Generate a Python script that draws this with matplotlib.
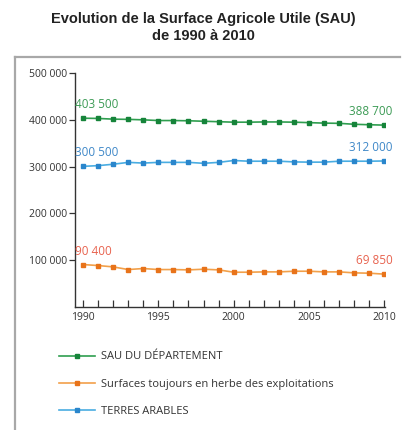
import matplotlib.pyplot as plt
from matplotlib.lines import Line2D
from matplotlib.ticker import FuncFormatter, MultipleLocator

plt.rcParams['font.family'] = ['Open Sans', 'DejaVu Sans']

years = list(range(1990, 2011))

sau = [403500, 403000, 401500, 401000, 400000, 398500, 398500, 398000, 397000, 396000,
       395000, 395000, 395500, 395500, 395000, 394000, 393000, 392500, 390500, 389500, 388700]
herbe = [90400, 88300, 85400, 79700, 81900, 79700, 79700, 79000, 80400, 79000,
         74000, 74000, 74700, 74700, 76100, 76100, 74700, 74700, 72600, 71900, 69850]
arables = [300500, 302000, 305000, 309000, 307500, 309000, 309000, 309000, 307000, 309000,
           313000, 311500, 311500, 311500, 310000, 309500, 309500, 311500, 311500, 311500, 312000]

labels = ['SAU DU DÉPARTEMENT',
          'Surfaces toujours en herbe des exploitations',
          'TERRES ARABLES']

# line colour, marker colour, value text colour
styles = [('#2f9e4f', '#16843a', '#3c9b55'),
          ('#f2a04a', '#e8731a', '#e8634f'),
          ('#49ade2', '#2a86cc', '#3f88c8')]


def fmt(v):
    return f'{v:,.0f}'.replace(',', ' ')


fig = plt.figure(figsize=(4.06, 4.30), dpi=100)
ax = fig.add_axes([0.1847, 0.2865, 0.763, 0.5435])

handles = []
for series, label, (lc, mc, tc) in zip([sau, herbe, arables], labels, styles):
    h, = ax.plot(years, series, color=lc, lw=1.2, marker='s', ms=3.4,
                 mfc=mc, mec=mc, label=label)
    handles.append(h)
    ax.annotate(fmt(series[0]), (years[0], series[0]), xytext=(-6, 5),
                textcoords='offset points', color=tc, fontsize=8.5, ha='left', va='bottom')
    ax.annotate(fmt(series[-1]), (years[-1], series[-1]), xytext=(6, 5),
                textcoords='offset points', color=tc, fontsize=8.5, ha='right', va='bottom')

ax.set_xlim(1989.47, 2010.02)
ax.set_ylim(0, 500000)
ax.spines['top'].set_visible(False)
ax.spines['right'].set_visible(False)
for s in ['left', 'bottom']:
    ax.spines[s].set_color('#333333')
    ax.spines[s].set_linewidth(1.0)

ax.set_xticks([1990, 1995, 2000, 2005, 2010])
ax.xaxis.set_minor_locator(MultipleLocator(1))
ax.tick_params(axis='x', which='both', direction='in', length=5, width=0.9,
               color='#333333', labelsize=7.5, labelcolor='#333333', pad=4)
ax.set_yticks([100000, 200000, 300000, 400000, 500000])
ax.yaxis.set_major_formatter(FuncFormatter(lambda v, p: fmt(v)))
ax.tick_params(axis='y', direction='out', length=4, width=0.9,
               color='#333333', labelsize=7.5, labelcolor='#333333', pad=2)

fig.text(0.5, 0.972, 'Evolution de la Surface Agricole Utile (SAU)\nde 1990 à 2010',
         ha='center', va='top', fontsize=10.5, fontweight='bold',
         family='Liberation Sans', color='#222222', linespacing=1.3)

# grey frame around the chart
fig.add_artist(Line2D([0.037, 0.985], [0.867, 0.867], color='#a8a8a8', lw=1.6))
fig.add_artist(Line2D([0.037, 0.037], [0.0, 0.867], color='#a8a8a8', lw=1.6))

fig.legend(handles=handles, loc='upper left', bbox_to_anchor=(0.135, 0.193),
           frameon=False, fontsize=8, handlelength=3.2, handletextpad=0.6,
           labelspacing=1.45, labelcolor='#333333', borderaxespad=0)

fig.savefig('out.png', dpi=100, facecolor='white')
